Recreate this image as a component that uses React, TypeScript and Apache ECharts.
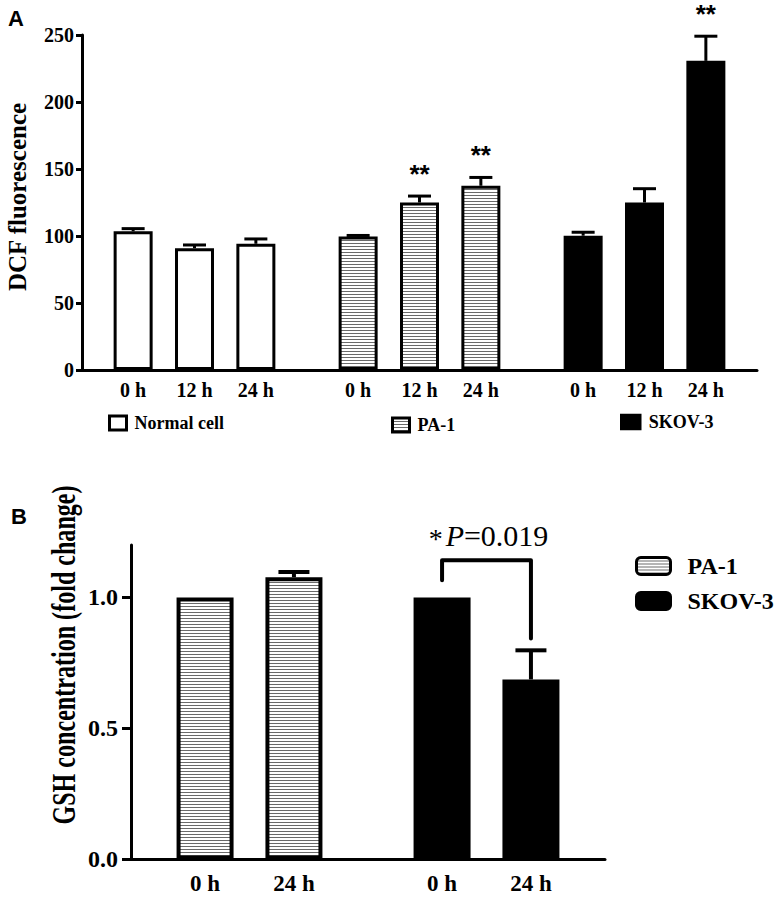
import React, { useEffect, useRef } from 'react';
import * as echarts from 'echarts';

// ---------- data (panel A) ----------
const groupsA = ['Normal cell', 'PA-1', 'SKOV-3'];
const timesA = ['0 h', '12 h', '24 h'];
const normalMean = [103.5, 90.9, 94.2];
const normalErr = [2.0, 2.4, 3.6];
const normalSig = ['', '', ''];
const pa1MeanA = [99.6, 125.0, 137.5];
const pa1ErrA = [0.8, 4.8, 6.2];
const pa1SigA = ['', '**', '**'];
const skovMeanA = [100.2, 125.0, 230.7];
const skovErrA = [2.6, 10.3, 18.4];
const skovSigA = ['', '', '**'];
const yTicksA = [0, 50, 100, 150, 200, 250];

// ---------- data (panel B) ----------
const groupsB = ['PA-1', 'SKOV-3'];
const timesB = ['0 h', '24 h'];
const pa1MeanB = [1.0, 1.077];
const pa1ErrB = [0, 0.02];
const skovMeanB = [1.0, 0.687];
const skovErrB = [0, 0.111];
const yTicksB = [0, 0.5, 1.0];
const bracketB = [1.065, 1.142, 0.843]; // left foot, top, right foot (fold change)
const pLabel = ['*', 'P', '=0.019'];

const SERIF = "'Liberation Serif', 'Times New Roman', serif";
const SANS = "'Liberation Sans', Arial, sans-serif";

// category slot layout (fine sub-slots so groups are separated)
const slotA = (g: number, i: number) => 2 + 11 * g + 3 * i;
const slotB = (g: number, i: number) => 2 + 8 * g + 3 * i;
const N_A = 33;
const N_B = 16;

function makeStripe() {
  const c = document.createElement('canvas');
  c.width = 4;
  c.height = 3;
  const ctx = c.getContext('2d')!;
  ctx.fillStyle = '#ffffff';
  ctx.fillRect(0, 0, 4, 3);
  ctx.fillStyle = '#6a6a6a';
  ctx.fillRect(0, 0, 4, 1);
  return c;
}

export default function App() {
  const ref = useRef<HTMLDivElement>(null);

  useEffect(() => {
    if (!ref.current) return;
    const chart = echarts.init(ref.current, null, { renderer: 'svg' });
    const canvas = makeStripe();
    const stripe: any = { image: canvas, repeat: 'repeat', imageWidth: 4, imageHeight: 3 };

    const catsA: string[] = Array(N_A).fill('');
    const tickSetA = new Set<number>();
    groupsA.forEach((_, g) =>
      timesA.forEach((t, i) => {
        catsA[slotA(g, i)] = t;
        tickSetA.add(slotA(g, i));
      })
    );
    const catsB: string[] = Array(N_B).fill('');
    const tickSetB = new Set<number>();
    groupsB.forEach((_, g) =>
      timesB.forEach((t, i) => {
        catsB[slotB(g, i)] = t;
        tickSetB.add(slotB(g, i));
      })
    );

    const meansA = [normalMean, pa1MeanA, skovMeanA];
    const errsA = [normalErr, pa1ErrA, skovErrA];
    const sigsA = [normalSig, pa1SigA, skovSigA];
    const meansB = [pa1MeanB, skovMeanB];
    const errsB = [pa1ErrB, skovErrB];

    const barDataA = (g: number) => meansA[g].map((v, i) => [slotA(g, i), v]);
    const barDataB = (g: number) => meansB[g].map((v, i) => [slotB(g, i), v]);

    const errDataA: number[][] = [];
    const errSigA: string[] = [];
    groupsA.forEach((_, g) =>
      meansA[g].forEach((m, i) => {
        errDataA.push([slotA(g, i), m, errsA[g][i]]);
        errSigA.push(sigsA[g][i]);
      })
    );
    const errDataB: number[][] = [];
    groupsB.forEach((_, g) =>
      meansB[g].forEach((m, i) => errDataB.push([slotB(g, i), m, errsB[g][i]]))
    );

    const errRender = (sigs: string[], cap: number, lw: number) => (params: any, api: any) => {
      const x = api.value(0);
      const m = api.value(1);
      const e = api.value(2);
      const base = api.coord([x, m]);
      const top = api.coord([x, m + e]);
      const children: any[] = [];
      if (e > 0) {
        children.push({
          type: 'line',
          shape: { x1: base[0], y1: base[1], x2: top[0], y2: top[1] },
          style: { stroke: '#000', lineWidth: lw },
        });
        children.push({
          type: 'line',
          shape: { x1: top[0] - cap / 2, y1: top[1], x2: top[0] + cap / 2, y2: top[1] },
          style: { stroke: '#000', lineWidth: lw },
        });
      }
      const s = sigs[params.dataIndex];
      if (s) {
        children.push({
          type: 'text',
          x: top[0],
          y: top[1] - 22,
          style: {
            text: s,
            fill: '#000',
            font: `bold 26px ${SANS}`,
            align: 'center',
            verticalAlign: 'middle',
          },
        });
      }
      return { type: 'group', children };
    };

    const bracketRender = (params: any, api: any) => {
      const x0 = api.value(0);
      const x1 = api.value(1);
      const p1 = api.coord([x0, api.value(2)]);
      const p2 = api.coord([x0, api.value(3)]);
      const p3 = api.coord([x1, api.value(3)]);
      const p4 = api.coord([x1, api.value(4)]);
      return {
        type: 'group',
        children: [
          {
            type: 'polyline',
            shape: { points: [p1, p2, p3, p4] },
            style: { stroke: '#000', lineWidth: 4, fill: null, lineJoin: 'round', lineCap: 'round' },
          },
          {
            type: 'text',
            x: (p2[0] + p3[0]) / 2 + 2,
            y: p2[1] - 25,
            style: {
              text: `{s|${pLabel[0]}}{p|${pLabel[1]}}{n|${pLabel[2]}}`,
              align: 'center',
              verticalAlign: 'middle',
              rich: {
                s: { fontSize: 28, fontFamily: SERIF, lineHeight: 24, verticalAlign: 'bottom', fill: '#000', padding: [0, 3, 0, 0] },
                p: { fontSize: 30, fontFamily: SERIF, fontStyle: 'italic', lineHeight: 34, fill: '#000' },
                n: { fontSize: 30, fontFamily: SERIF, lineHeight: 34, fill: '#000' },
              },
            },
          },
        ],
      };
    };

    const axisLabelStyle = (size: number) => ({
      fontSize: size,
      fontWeight: 'bold' as const,
      color: '#000',
      fontFamily: SERIF,
    });

    const legendText = (size: number) => ({
      fontSize: size,
      fontWeight: 'bold' as const,
      color: '#000',
      fontFamily: SERIF,
    });

    const option: any = {
      animation: false,
      backgroundColor: '#fff',
      grid: [
        { left: 82, top: 35, width: 675, height: 335 },
        { left: 131, top: 545, width: 474, height: 314.4 },
      ],
      xAxis: [
        {
          gridIndex: 0,
          type: 'category',
          data: catsA,
          axisLine: { lineStyle: { color: '#000', width: 3 } },
          axisTick: {
            alignWithLabel: true,
            interval: (i: number) => tickSetA.has(i),
            length: 7,
            lineStyle: { color: '#000', width: 3 },
          },
          axisLabel: { ...axisLabelStyle(20), interval: (i: number) => tickSetA.has(i), margin: 10 },
          splitLine: { show: false },
        },
        {
          gridIndex: 1,
          type: 'category',
          data: catsB,
          axisLine: { lineStyle: { color: '#000', width: 3 } },
          axisTick: {
            alignWithLabel: true,
            interval: (i: number) => tickSetB.has(i),
            length: 8,
            lineStyle: { color: '#000', width: 3 },
          },
          axisLabel: { ...axisLabelStyle(23), interval: (i: number) => tickSetB.has(i), margin: 13 },
          splitLine: { show: false },
        },
      ],
      yAxis: [
        {
          gridIndex: 0,
          type: 'value',
          min: yTicksA[0],
          max: yTicksA[yTicksA.length - 1],
          interval: yTicksA[1] - yTicksA[0],
          axisLine: { show: true, lineStyle: { color: '#000', width: 3 } },
          axisTick: { show: true, length: 6, lineStyle: { color: '#000', width: 3 } },
          axisLabel: { ...axisLabelStyle(20), margin: 8 },
          splitLine: { show: false },
        },
        {
          gridIndex: 1,
          type: 'value',
          min: 0,
          max: 1.2,
          interval: 0.5,
          axisLine: { show: true, lineStyle: { color: '#000', width: 3 } },
          axisTick: { show: true, length: 9, customValues: yTicksB, lineStyle: { color: '#000', width: 3 } },
          axisLabel: {
            ...axisLabelStyle(24),
            margin: 13,
            customValues: yTicksB,
            formatter: (v: number) => (yTicksB.some((t) => Math.abs(t - v) < 1e-9) ? v.toFixed(1) : ''),
          },
          splitLine: { show: false },
        },
      ],
      legend: [
        {
          data: [groupsA[0]],
          left: 108,
          top: 414,
          padding: 0,
          icon: 'rect',
          itemWidth: 17,
          itemHeight: 14,
          selectedMode: false,
          itemStyle: { borderWidth: 3, borderColor: '#000' },
          textStyle: { ...legendText(18), padding: [0, 0, 0, 3] },
        },
        {
          data: [groupsA[1]],
          left: 391,
          top: 416,
          padding: 0,
          icon: 'rect',
          itemWidth: 17,
          itemHeight: 14,
          selectedMode: false,
          itemStyle: { borderWidth: 3, borderColor: '#000' },
          textStyle: { ...legendText(18), padding: [0, 0, 0, 3] },
        },
        {
          data: [groupsA[2]],
          left: 620,
          top: 413,
          padding: 0,
          icon: 'rect',
          itemWidth: 20,
          itemHeight: 15,
          selectedMode: false,
          itemStyle: { borderWidth: 1.5, borderColor: '#000' },
          textStyle: { ...legendText(18), padding: [0, 0, 0, 3] },
        },
        {
          data: groupsB,
          orient: 'vertical',
          left: 635,
          top: 554,
          padding: 0,
          icon: 'roundRect',
          itemWidth: 34,
          itemHeight: 17,
          itemGap: 11,
          selectedMode: false,
          itemStyle: { borderWidth: 3, borderColor: '#000' },
          textStyle: { ...legendText(24), padding: [0, 0, 0, 12] },
        },
      ],
      graphic: [
        {
          type: 'text',
          left: 8,
          top: 7,
          style: { text: 'A', font: `bold 22px ${SANS}`, fill: '#000' },
        },
        {
          type: 'text',
          left: 11,
          top: 505,
          style: { text: 'B', font: `bold 22px ${SANS}`, fill: '#000' },
        },
        {
          type: 'text',
          x: 17,
          y: 197,
          rotation: Math.PI / 2,
          style: {
            text: 'DCF fluorescence',
            font: `bold 25px ${SERIF}`,
            fill: '#000',
            align: 'center',
            verticalAlign: 'middle',
          },
        },
        {
          type: 'text',
          x: 64,
          y: 655,
          rotation: Math.PI / 2,
          scaleX: 0.73,
          style: {
            text: 'GSH concentration (fold change)',
            font: `bold 33px ${SERIF}`,
            fill: '#000',
            align: 'center',
            verticalAlign: 'middle',
          },
        },
      ],
      series: [
        {
          name: groupsA[0],
          type: 'bar',
          xAxisIndex: 0,
          yAxisIndex: 0,
          barWidth: 39,
          barGap: '-100%',
          data: barDataA(0),
          itemStyle: { color: '#fff', borderColor: '#000', borderWidth: 3 },
          z: 2,
        },
        {
          name: groupsA[1],
          type: 'bar',
          xAxisIndex: 0,
          yAxisIndex: 0,
          barWidth: 39,
          barGap: '-100%',
          data: barDataA(1),
          itemStyle: { color: stripe, borderColor: '#000', borderWidth: 3 },
          z: 2,
        },
        {
          name: groupsA[2],
          type: 'bar',
          xAxisIndex: 0,
          yAxisIndex: 0,
          barWidth: 39,
          barGap: '-100%',
          data: barDataA(2),
          itemStyle: { color: '#000', borderColor: '#000', borderWidth: 3 },
          z: 2,
        },
        {
          name: 'errA',
          type: 'custom',
          xAxisIndex: 0,
          yAxisIndex: 0,
          data: errDataA,
          encode: { x: 0, y: 1 },
          renderItem: errRender(errSigA, 23, 3),
          z: 4,
          silent: true,
        },
        {
          name: groupsB[0],
          type: 'bar',
          xAxisIndex: 1,
          yAxisIndex: 1,
          barWidth: 57,
          barGap: '-100%',
          data: barDataB(0),
          itemStyle: { color: stripe, borderColor: '#000', borderWidth: 4 },
          z: 2,
        },
        {
          name: groupsB[1],
          type: 'bar',
          xAxisIndex: 1,
          yAxisIndex: 1,
          barWidth: 57,
          barGap: '-100%',
          data: barDataB(1),
          itemStyle: { color: '#000', borderColor: '#000', borderWidth: 4 },
          z: 2,
        },
        {
          name: 'errB',
          type: 'custom',
          xAxisIndex: 1,
          yAxisIndex: 1,
          data: errDataB,
          encode: { x: 0, y: 1 },
          renderItem: errRender(['', '', '', ''], 31, 4),
          z: 4,
          silent: true,
        },
        {
          name: 'bracketB',
          type: 'custom',
          xAxisIndex: 1,
          yAxisIndex: 1,
          data: [[slotB(1, 0), slotB(1, 1), bracketB[0], bracketB[1], bracketB[2]]],
          encode: { x: [0, 1], y: [2, 3, 4] },
          renderItem: bracketRender,
          z: 4,
          silent: true,
          clip: false,
        },
      ],
    };

    chart.setOption(option);
    return () => chart.dispose();
  }, []);

  return (
    <div
      ref={ref}
      style={{ position: 'absolute', left: 0, top: 0, width: 784, height: 918, background: '#fff' }}
    />
  );
}
